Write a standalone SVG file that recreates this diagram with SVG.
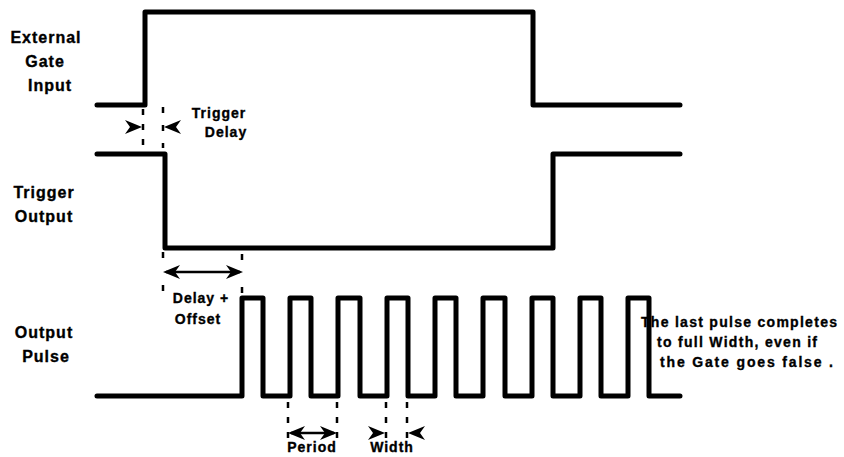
<svg xmlns="http://www.w3.org/2000/svg" xmlns:xlink="http://www.w3.org/1999/xlink" width="844" height="457" viewBox="0 0 844 457">
<style>
  .bg{fill:#ffffff}
  .wave{fill:none;stroke:#000;stroke-width:5;stroke-linejoin:round;stroke-linecap:round}
  .dash{fill:none;stroke:#000;stroke-width:2.5;stroke-dasharray:6 9}
  .dim{fill:none;stroke:#000;stroke-width:2.5}
  .lbl{font-family:"Liberation Sans",Arial,sans-serif;font-weight:bold;font-size:16px;letter-spacing:1px;fill:#000;stroke:#000;stroke-width:0.35;text-anchor:middle}
  .ann{font-family:"Liberation Sans",Arial,sans-serif;font-weight:bold;font-size:14px;letter-spacing:1px;fill:#000;stroke:#000;stroke-width:0.35;text-anchor:middle}
  .note{font-family:"Liberation Sans",Arial,sans-serif;font-weight:bold;font-size:14px;fill:#000;stroke:#000;stroke-width:0.35}
</style>
<defs>
  <path id="ah" d="M0,0 L-17,-7 L-12,0 L-17,7 Z" fill="#000"/>
</defs>
<rect class="bg" x="0" y="0" width="844" height="457"/>

<g id="labels">
  <text class="lbl" x="46" y="43">External</text>
  <text class="lbl" x="45" y="67">Gate</text>
  <text class="lbl" x="50" y="91">Input</text>
  <text class="lbl" x="44" y="198">Trigger</text>
  <text class="lbl" x="44" y="222">Output</text>
  <text class="lbl" x="44" y="338">Output</text>
  <text class="lbl" x="46" y="362">Pulse</text>
</g>

<g id="note">
  <text class="note" x="641" y="327" textLength="196" lengthAdjust="spacing">The last pulse completes</text>
  <text class="note" x="657" y="347" textLength="160" lengthAdjust="spacing">to full Width, even if</text>
  <text class="note" x="660" y="367" textLength="173" lengthAdjust="spacing">the Gate goes false .</text>
</g>

<g id="gate-input">
  <path class="wave" d="M97,105 H145 V12 H533 V105 H680"/>
</g>

<g id="trigger-output">
  <path class="wave" d="M97,154 H165 V248 H553 V154 H680"/>
</g>

<g id="output-pulse">
  <path class="wave" d="M97,396 H242 V298 H263 V396 H290 V298 H311 V396 H338 V298 H360 V396 H387 V298 H408 V396 H435 V298 H456 V396 H483 V298 H505 V396 H532 V298 H553 V396 H580 V298 H601 V396 H628 V298 H649 V396 H680"/>
</g>

<g id="connectors">
  <!-- Trigger delay -->
  <line class="dash" x1="143" y1="109" x2="143" y2="148"/>
  <line class="dash" x1="163" y1="107" x2="163" y2="148" style="stroke-dasharray:6 12"/>
  <use xlink:href="#ah" href="#ah" transform="translate(142,127)"/>
  <use xlink:href="#ah" href="#ah" transform="translate(164,127) scale(-1,1)"/>
  <!-- Delay + Offset -->
  <line class="dash" x1="163" y1="252" x2="163" y2="292" style="stroke-dasharray:6 27"/>
  <line class="dash" x1="242" y1="254" x2="242" y2="294" style="stroke-dasharray:6 27"/>
  <line class="dim" x1="166" y1="272" x2="240" y2="272"/>
  <use xlink:href="#ah" href="#ah" transform="translate(163,272) scale(-1,1)"/>
  <use xlink:href="#ah" href="#ah" transform="translate(243,272)"/>
  <!-- Period -->
  <line class="dash" x1="288" y1="402" x2="288" y2="445"/>
  <line class="dash" x1="337" y1="402" x2="337" y2="445"/>
  <line class="dim" x1="291" y1="433" x2="334" y2="433"/>
  <use xlink:href="#ah" href="#ah" transform="translate(288,433) scale(-1,1)"/>
  <use xlink:href="#ah" href="#ah" transform="translate(337,433)"/>
  <!-- Width -->
  <line class="dash" x1="386" y1="402" x2="386" y2="445"/>
  <line class="dash" x1="407" y1="402" x2="407" y2="445"/>
  <use xlink:href="#ah" href="#ah" transform="translate(385,433)"/>
  <use xlink:href="#ah" href="#ah" transform="translate(408,433) scale(-1,1)"/>
</g>

<g id="annotations">
  <text class="ann" x="219" y="118">Trigger</text>
  <text class="ann" x="226" y="137">Delay</text>
  <text class="ann" x="201" y="303">Delay +</text>
  <text class="ann" x="198" y="324">Offset</text>
  <text class="ann" x="312" y="452">Period</text>
  <text class="ann" x="392" y="452">Width</text>
</g>
</svg>
